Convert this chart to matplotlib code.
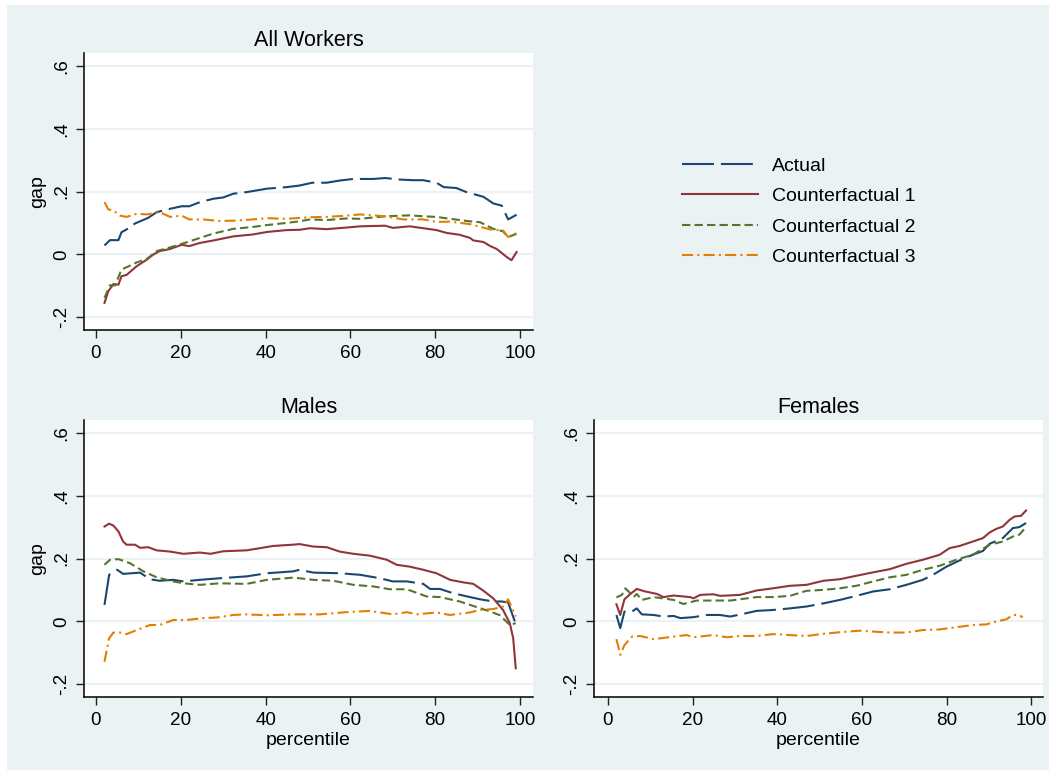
import matplotlib
matplotlib.use('Agg')
import matplotlib.pyplot as plt
from matplotlib.patches import Rectangle
from matplotlib.lines import Line2D

plt.rcParams['font.family'] = ['Liberation Sans', 'DejaVu Sans']
plt.rcParams['lines.scale_dashes'] = False

# ---------------- data ----------------
series_names = ["Actual", "Counterfactual 1", "Counterfactual 2", "Counterfactual 3"]
panel_titles = ["All Workers", "Males", "Females"]
x_ticks = [0, 20, 40, 60, 80, 100]
y_ticks = [-0.2, 0, 0.2, 0.4, 0.6]
y_tick_labels = ["-.2", "0", ".2", ".4", ".6"]

# All Workers
aw_act_x = [2, 3.3, 5.3, 6, 7.2, 9.2, 12.3, 14.3, 17.5, 20.2, 22, 24.5, 27.7, 30, 32.4, 35.5, 40.3, 45, 48, 51, 54.4, 57.5, 60.7, 65.4, 68.2, 71.7, 74.8, 77.2, 80.3, 82, 85, 87.4, 89.8, 91.4, 93.7, 95.7, 97.2, 99.2]
aw_act_y = [.028, .045, .045, .070, .079, .098, .116, .134, .145, .153, .153, .166, .177, .181, .193, .198, .209, .214, .219, .228, .228, .235, .240, .240, .243, .238, .236, .236, .228, .214, .211, .198, .189, .183, .162, .155, .111, .126]
aw_cf1_x = [2, 2.9, 4.1, 5.3, 6, 7.2, 9.6, 12, 13.5, 15, 17.5, 20.2, 22, 24.5, 27.7, 32.4, 37, 40.3, 45, 48, 50.5, 54.4, 59, 62.3, 68.2, 70, 74, 77.2, 80.3, 82.7, 85.8, 88.2, 89, 91.4, 93, 94.5, 96.9, 98, 99.2]
aw_cf1_y = [-.155, -.118, -.095, -.097, -.070, -.066, -.038, -.017, -.001, .010, .017, .030, .026, .036, .044, .057, .063, .071, .077, .078, .083, .080, .085, .089, .091, .084, .089, .083, .077, .068, .062, .052, .044, .039, .026, .017, -.009, -.019, .007]
aw_cf2_x = [2, 3.3, 4.5, 6, 9.6, 12, 14.3, 17.5, 20.2, 24.5, 27.7, 32.4, 37, 40.3, 45, 48, 50.5, 54.4, 59, 62.3, 68.2, 74, 77.2, 80.3, 83.5, 88.2, 90.6, 93.7, 96, 97.2, 99.2]
aw_cf2_y = [-.139, -.099, -.099, -.049, -.026, -.015, .010, .022, .033, .052, .066, .081, .087, .093, .100, .105, .111, .109, .114, .113, .121, .124, .121, .119, .113, .105, .102, .081, .073, .055, .065]
aw_cf3_x = [2, 2.9, 4.1, 5.7, 7.2, 9.6, 12, 15, 17.5, 20.2, 22, 25.3, 29, 32.4, 37, 40.3, 45, 50.5, 54.4, 59, 62.3, 68.2, 72.5, 77.2, 80.3, 83.5, 88.2, 93, 96, 97.2, 99.2]
aw_cf3_y = [.166, .143, .140, .123, .119, .129, .127, .134, .119, .123, .111, .111, .106, .107, .111, .115, .113, .118, .119, .123, .127, .121, .111, .111, .103, .104, .096, .079, .076, .055, .068]

# Males
m_act_x = [2, 3.1, 5, 6.4, 10.4, 12.7, 15, 18.2, 20.6, 24.5, 29.2, 35.5, 40.3, 46.5, 48, 51.3, 57.5, 62.3, 67, 70, 73.3, 77.2, 78.8, 81.1, 84.3, 88.2, 90.6, 93.7, 95.7, 97.2, 99]
m_act_y = [.052, .148, .164, .151, .155, .134, .129, .132, .127, .132, .137, .143, .153, .159, .164, .155, .153, .148, .137, .127, .127, .119, .103, .103, .089, .077, .070, .063, .063, .060, -.009]
m_cf1_x = [2, 3.1, 4.1, 5.3, 6.4, 7.2, 9.2, 10.4, 12.3, 14.3, 17.5, 20.6, 24.5, 27, 30, 35.5, 38.7, 41.8, 46.5, 48, 51.3, 54.4, 57.5, 60.7, 64.6, 68.6, 70.9, 74, 77.2, 80.3, 83.5, 86.6, 89, 91.4, 93.7, 96, 97.6, 98.4, 99]
m_cf1_y = [.302, .311, .305, .286, .254, .244, .244, .234, .236, .226, .222, .215, .219, .215, .223, .226, .233, .240, .244, .246, .238, .236, .222, .215, .209, .196, .180, .174, .164, .153, .132, .124, .119, .097, .073, .036, -.006, -.054, -.150]
m_cf2_x = [2, 3.3, 5.3, 8, 11.2, 14.3, 18.2, 20.6, 24.5, 29.2, 35.5, 40.3, 46.5, 48, 51.3, 56, 60.7, 65.4, 69.3, 73.3, 78, 81.1, 85.8, 89.8, 93, 95.3, 97.6, 99]
m_cf2_y = [.180, .196, .198, .185, .159, .140, .127, .121, .116, .121, .119, .132, .139, .137, .132, .129, .116, .111, .102, .102, .079, .077, .063, .045, .031, .019, -.012, -.006]
m_cf3_x = [2, 3.1, 4.1, 5.7, 7.2, 9.6, 12.7, 15, 18.2, 21.4, 25.3, 28.5, 32.4, 35.5, 40.3, 46.5, 52.8, 59, 64.6, 70, 73.3, 75.6, 80.3, 83.5, 88.2, 90.6, 93.7, 96, 97.2, 99]
m_cf3_y = [-.129, -.054, -.036, -.036, -.041, -.028, -.012, -.012, .004, .004, .010, .012, .020, .022, .019, .022, .022, .029, .033, .022, .029, .022, .028, .020, .028, .036, .039, .047, .070, .015]

# Females
f_act_x = [2, 2.9, 3.9, 5.7, 6.8, 8, 10.8, 13.1, 15.5, 17.1, 20.2, 23.3, 26.5, 28.9, 32.8, 35.1, 39, 43, 46.9, 50.9, 54.8, 58.7, 62.7, 66.6, 70.5, 74.4, 76.8, 80, 83.1, 86.2, 88.6, 90.2, 93.3, 95.7, 97.2, 98.8]
f_act_y = [.020, -.022, .031, .031, .041, .022, .020, .015, .017, .010, .013, .020, .020, .015, .026, .033, .036, .041, .047, .057, .068, .081, .095, .102, .116, .132, .148, .174, .194, .212, .224, .247, .265, .297, .300, .313]
f_cf1_x = [2, 2.9, 3.9, 5.3, 6.8, 8.8, 11.6, 13.1, 15.5, 19.4, 20.2, 21.8, 24.9, 26.5, 31.2, 35.1, 39, 43, 46.9, 50.9, 54.8, 58.7, 62.7, 66.6, 70.5, 74.4, 78.4, 80.7, 83.1, 86.2, 88.6, 90.2, 91.7, 93.3, 94.9, 96.1, 97.6, 98.8]
f_cf1_y = [.054, .020, .070, .087, .103, .095, .087, .077, .082, .077, .073, .084, .086, .081, .084, .098, .105, .113, .116, .129, .134, .145, .156, .166, .183, .196, .212, .233, .240, .254, .265, .283, .294, .302, .323, .334, .336, .353]
f_cf2_x = [2, 3.3, 4.1, 5.3, 6.2, 6.8, 8, 10.8, 15.5, 17.8, 21, 26.5, 28.9, 35.1, 39, 43, 46.9, 50.9, 54.8, 58.7, 62.7, 66.6, 70.5, 74.4, 78.4, 82.3, 86.2, 90.2, 93.3, 95.7, 97.2, 98.8]
f_cf2_y = [.076, .084, .105, .089, .079, .087, .068, .077, .068, .055, .066, .066, .066, .077, .077, .081, .097, .100, .105, .113, .127, .140, .148, .164, .177, .196, .212, .244, .254, .270, .276, .300]
f_cf3_x = [2, 2.9, 3.9, 5.7, 7.6, 10.8, 15.5, 18.6, 20.2, 24.9, 28.1, 31.2, 35.1, 39, 43, 46.9, 50.9, 54.8, 59.5, 62.7, 66.6, 70.5, 74.4, 78.4, 82.3, 86.2, 89.4, 91.7, 94.1, 95.7, 97.2, 98]
f_cf3_y = [-.057, -.107, -.076, -.049, -.047, -.057, -.049, -.044, -.051, -.044, -.051, -.047, -.047, -.041, -.044, -.047, -.040, -.035, -.030, -.033, -.036, -.036, -.028, -.026, -.019, -.012, -.010, -.001, .006, .020, .020, .012]

# ---------------- style ----------------
BG = '#EAF2F3'
colors = ['#1A476F', '#90353B', '#55752F', '#E37E00']
styles = [(0, (23, 5)), '-', (0, (6, 3)), (0, (8, 3, 1.5, 3))]
LW = 1.5

fig = plt.figure(figsize=(10.49, 7.70), dpi=100)
fig.patch.set_facecolor('white')
fig.patches.append(Rectangle((7 / 1049, -0.01), 1.02, 1.01 - 5 / 770, transform=fig.transFigure,
                             facecolor=BG, edgecolor='none', zorder=-10))

W, H = 1049, 770
def rect(l, r, t, b):
    return [l / W, 1 - b / H, (r - l) / W, (b - t) / H]

ax_tl = fig.add_axes(rect(84, 533, 53, 330))
ax_bl = fig.add_axes(rect(84, 533, 420, 697))
ax_br = fig.add_axes(rect(594, 1043, 420, 697))

panels = [
    (ax_tl, panel_titles[0], [(aw_act_x, aw_act_y), (aw_cf1_x, aw_cf1_y), (aw_cf2_x, aw_cf2_y), (aw_cf3_x, aw_cf3_y)], (-2.83, 103.07), True, False),
    (ax_bl, panel_titles[1], [(m_act_x, m_act_y), (m_cf1_x, m_cf1_y), (m_cf2_x, m_cf2_y), (m_cf3_x, m_cf3_y)], (-2.83, 103.07), True, True),
    (ax_br, panel_titles[2], [(f_act_x, f_act_y), (f_cf1_x, f_cf1_y), (f_cf2_x, f_cf2_y), (f_cf3_x, f_cf3_y)], (-3.3, 102.8), False, True),
]

for ax, title, data, xl, ylab, xlab in panels:
    ax.set_facecolor('white')
    for (xs, ys), c, ls, nm in zip(data, colors, styles, series_names):
        ax.plot(xs, ys, color=c, linestyle=ls, linewidth=LW, label=nm)
    ax.set_xlim(*xl)
    ax.set_ylim(-0.2414, 0.6414)
    ax.set_xticks(x_ticks)
    ax.set_yticks(y_ticks)
    ax.set_yticklabels(y_tick_labels, rotation=90, va='center')
    ax.tick_params(axis='both', direction='out', length=6, width=1.0, color='#222222',
                   labelsize=13.6, labelcolor='black')
    ax.tick_params(axis='x', pad=5)
    ax.tick_params(axis='y', pad=4)
    ax.yaxis.grid(True, color=BG, linewidth=1.6)
    ax.set_axisbelow(True)
    for s in ['top', 'right']:
        ax.spines[s].set_visible(False)
    for s in ['left', 'bottom']:
        ax.spines[s].set_linewidth(1.1)
        ax.spines[s].set_color('black')
    ax.set_title(title, fontsize=15.5, pad=5)
    if ylab:
        ax.set_ylabel('gap', fontsize=14, labelpad=5)
    if xlab:
        ax.set_xlabel('percentile', fontsize=14, labelpad=2)

handles = [Line2D([0], [0], color=c, linestyle=ls, linewidth=LW) for c, ls in zip(colors, styles)]
fig.legend(handles, series_names, loc='upper left', bbox_to_anchor=(682 / W, 1 - 157 / H),
           frameon=False, fontsize=14, handlelength=3.9, handletextpad=0.75,
           labelspacing=0.66, borderpad=0, borderaxespad=0)

fig.savefig('out.png', dpi=100, facecolor=fig.get_facecolor())
